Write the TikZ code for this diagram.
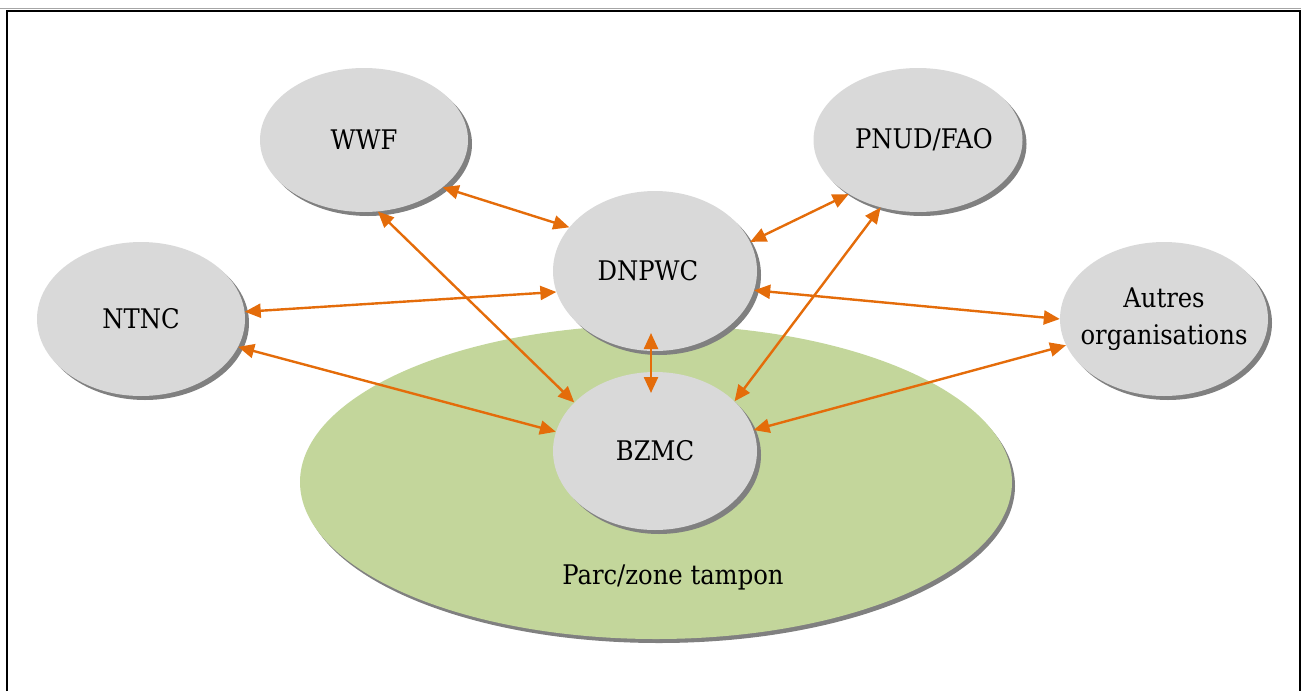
\documentclass[tikz,border=0pt]{standalone}
\usepackage{fontspec}
\setmainfont{DejaVu Serif Condensed}
\usetikzlibrary{shapes.geometric,shadows,arrows.meta}
\definecolor{nodegray}{HTML}{D9D9D9}
\definecolor{shadowgray}{HTML}{808080}
\definecolor{parkgreen}{HTML}{C3D69B}
\definecolor{linkorange}{HTML}{E46C0A}
\begin{document}
\begin{tikzpicture}[x=1pt,y=-1pt,
  org/.style={ellipse, fill=nodegray, inner xsep=-30pt, inner ysep=0pt,
    font=\fontsize{27}{37}\selectfont, align=center,
    general shadow={fill=shadowgray, shadow xshift=4pt, shadow yshift=-4pt}},
  park/.style={ellipse, fill=parkgreen, inner sep=0pt,
    general shadow={fill=shadowgray, shadow xshift=3pt, shadow yshift=-4pt}},
  link/.style={draw=linkorange, line width=2.4pt, {Triangle[length=16pt,width=14pt]}-{Triangle[length=16pt,width=14pt]}},
  lbl/.style={font=\fontsize{27}{37}\selectfont, inner sep=0pt}]
\useasboundingbox (0,0) rectangle (1301,691);
% frame (open at the bottom)
\draw[black!35, line width=0.8pt] (0,8.6) -- (1301,8.6);
\draw[line width=2pt] (7,691) -- (7,11) -- (1299.5,11) -- (1299.5,691);
% park / buffer zone
\node[park, minimum width=712pt, minimum height=314pt] (PARK) at (656,482) {};
\node[lbl] (PARKLBL) at (673,577) {Parc/zone tampon};
% organisations
\node[org, minimum width=208pt, minimum height=144pt] (WWF) at (364,140) {WWF};
\node[org, minimum width=209pt, minimum height=144pt] (PNUD) at (918,140) {\hspace*{12pt}PNUD/FAO};
\node[org, minimum width=208pt, minimum height=154pt] (NTNC) at (141,319) {NTNC};
\node[org, minimum width=208pt, minimum height=154pt] (AUT) at (1164,319) {Autres\\organisations};
\node[org, minimum width=204pt, minimum height=160pt] (DNPWC) at (655,271) {DNPWC\hspace*{14pt}};
\node[org, minimum width=204pt, minimum height=158pt] (BZMC) at (655,451) {BZMC};
% links
\draw[link] (WWF.-31) -- (DNPWC.153);
\draw[link] (WWF.-79) -- (BZMC.149);
\draw[link] (NTNC.4) -- (DNPWC.-168);
\draw[link] (NTNC.-16) -- (BZMC.169);
\draw[link] (PNUD.-142) -- (DNPWC.17);
\draw[link] (PNUD.-119) -- (BZMC.32);
\draw[link] (AUT.180) -- (DNPWC.-11);
\draw[link] (AUT.-165) -- (BZMC.12);
\draw[link, shorten <=62pt, shorten >=58pt] ([xshift=-4pt]DNPWC.center) -- ([xshift=-4pt]BZMC.center);
\end{tikzpicture}
\end{document}
